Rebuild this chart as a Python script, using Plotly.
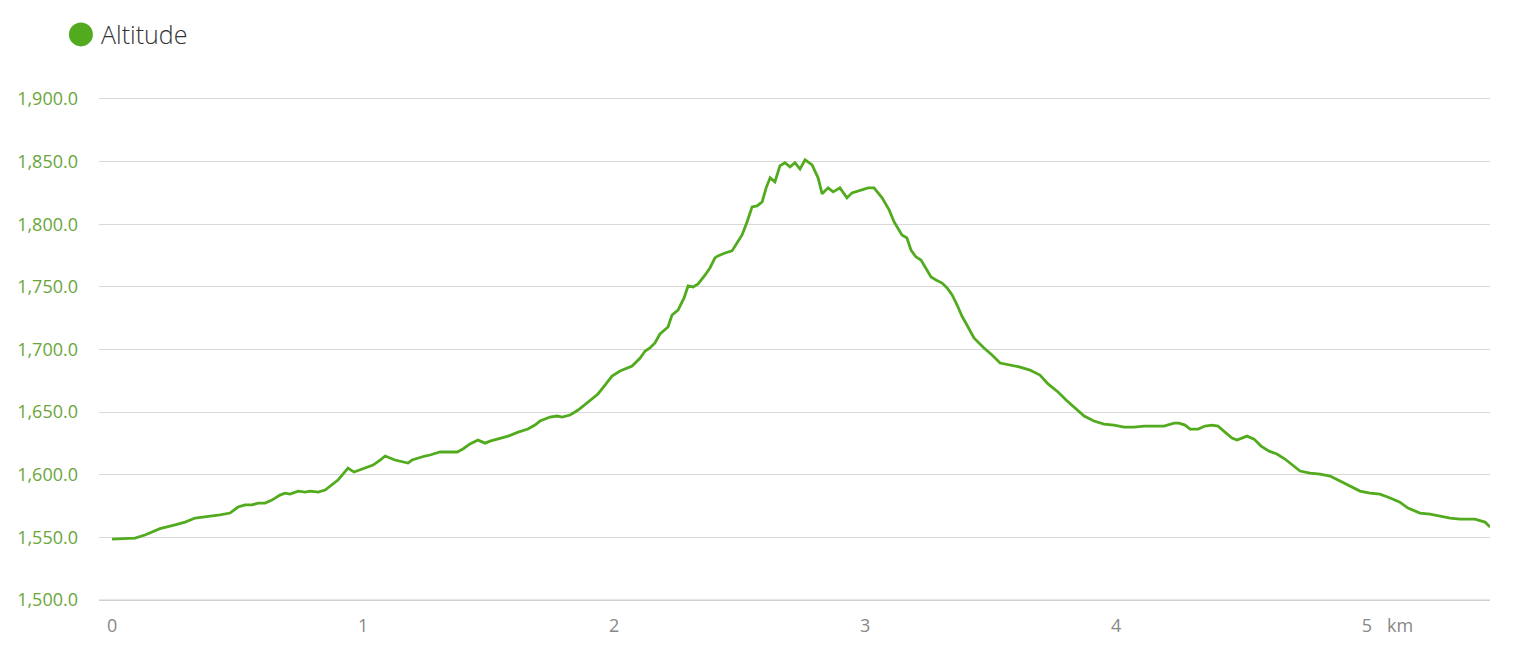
import plotly.graph_objects as go

distance_km = [0.000, 0.052, 0.092, 0.131, 0.151, 0.191, 0.251, 0.291, 0.331, 0.371, 0.410, 0.430,
               0.470, 0.502, 0.530, 0.558, 0.582, 0.610, 0.637, 0.669, 0.689, 0.709, 0.741, 0.769,
               0.789, 0.821, 0.849, 0.876, 0.900, 0.920, 0.940, 0.964, 0.996, 1.020, 1.040, 1.068,
               1.088, 1.127, 1.155, 1.179, 1.195, 1.219, 1.247, 1.267, 1.307, 1.347, 1.375, 1.398,
               1.426, 1.458, 1.486, 1.506, 1.546, 1.578, 1.618, 1.657, 1.685, 1.705, 1.745, 1.773,
               1.793, 1.825, 1.857, 1.896, 1.936, 1.968, 1.992, 2.024, 2.044, 2.072, 2.104, 2.124,
               2.143, 2.163, 2.183, 2.215, 2.231, 2.255, 2.279, 2.295, 2.315, 2.335, 2.363, 2.382,
               2.402, 2.414, 2.442, 2.470, 2.490, 2.510, 2.530, 2.550, 2.570, 2.590, 2.606, 2.622,
               2.641, 2.661, 2.681, 2.701, 2.721, 2.741, 2.761, 2.789, 2.813, 2.829, 2.853, 2.873,
               2.900, 2.928, 2.948, 2.980, 3.012, 3.036, 3.068, 3.096, 3.116, 3.147, 3.167, 3.183,
               3.203, 3.223, 3.243, 3.263, 3.283, 3.307, 3.327, 3.347, 3.367, 3.386, 3.406, 3.434,
               3.474, 3.506, 3.538, 3.578, 3.618, 3.657, 3.697, 3.729, 3.769, 3.801, 3.837, 3.873,
               3.912, 3.952, 3.992, 4.032, 4.072, 4.112, 4.151, 4.191, 4.231, 4.251, 4.275, 4.295,
               4.327, 4.355, 4.382, 4.406, 4.434, 4.462, 4.482, 4.502, 4.522, 4.550, 4.578, 4.610,
               4.641, 4.673, 4.701, 4.733, 4.773, 4.813, 4.853, 4.892, 4.932, 4.972, 5.012, 5.052,
               5.092, 5.131, 5.163, 5.211, 5.251, 5.291, 5.331, 5.371, 5.410, 5.430, 5.470, 5.490]
altitude_m = [1548.7, 1548.9, 1549.5, 1552.0, 1553.5, 1557.0, 1560.0, 1562.3, 1565.5, 1566.3, 1567.0, 1568.0,
              1569.5, 1574.3, 1576.0, 1576.0, 1577.4, 1577.4, 1579.8, 1583.8, 1585.4, 1584.6, 1587.0, 1586.2,
              1587.0, 1586.2, 1587.8, 1591.8, 1595.8, 1600.6, 1605.4, 1602.2, 1604.6, 1606.2, 1607.8, 1611.8,
              1615.0, 1611.8, 1610.2, 1609.4, 1611.8, 1613.4, 1615.0, 1615.8, 1618.2, 1618.2, 1618.2, 1620.6,
              1624.6, 1627.7, 1625.3, 1626.9, 1629.3, 1630.9, 1634.1, 1636.5, 1639.7, 1642.9, 1646.1, 1646.9,
              1646.1, 1647.7, 1651.7, 1658.1, 1664.5, 1672.5, 1678.8, 1682.8, 1684.4, 1686.8, 1693.2, 1698.8,
              1701.2, 1705.2, 1712.4, 1718.0, 1727.5, 1731.5, 1741.1, 1750.7, 1749.9, 1752.3, 1759.5, 1765.1,
              1773.1, 1774.7, 1777.0, 1778.7, 1785.0, 1791.4, 1801.8, 1813.8, 1814.6, 1817.8, 1829.0, 1837.0,
              1833.8, 1846.5, 1849.0, 1845.7, 1849.0, 1844.0, 1851.3, 1847.3, 1837.0, 1824.2, 1829.0, 1825.8,
              1829.0, 1821.0, 1825.0, 1827.3, 1829.0, 1829.0, 1821.0, 1811.4, 1801.8, 1791.4, 1789.0, 1779.4,
              1773.8, 1771.4, 1765.0, 1757.9, 1755.5, 1753.0, 1749.1, 1743.5, 1735.5, 1726.7, 1719.6, 1709.2,
              1701.2, 1695.6, 1689.2, 1687.6, 1686.0, 1683.6, 1679.6, 1672.5, 1666.1, 1659.7, 1653.3, 1646.9,
              1642.9, 1640.5, 1639.7, 1638.1, 1638.1, 1638.9, 1638.9, 1638.9, 1641.3, 1641.3, 1639.7, 1636.5,
              1636.5, 1638.9, 1639.7, 1638.9, 1634.1, 1629.3, 1627.7, 1629.3, 1630.9, 1628.5, 1622.9, 1618.9,
              1616.6, 1612.6, 1607.8, 1603.0, 1601.4, 1600.6, 1599.0, 1595.0, 1591.0, 1587.0, 1585.4, 1584.6,
              1581.5, 1578.2, 1573.5, 1569.5, 1568.7, 1567.0, 1565.5, 1564.7, 1564.7, 1564.7, 1562.3, 1558.3]

x_tick_vals = [0, 1, 2, 3, 4, 5]
x_tick_text = ["0", "1", "2", "3", "4", "5"]
y_tick_vals = [1500, 1550, 1600, 1650, 1700, 1750, 1800, 1850, 1900]
y_tick_text = ["{:,.1f}".format(v) for v in y_tick_vals]

GREEN = "#52ab1e"
GRID = "#d8d8d8"
FONT = "Open Sans"

fig = go.Figure()
fig.add_trace(go.Scatter(
    x=distance_km, y=altitude_m, mode="lines",
    line=dict(color=GREEN, width=2.8, shape="linear"),
    name="Altitude", showlegend=False, hoverinfo="x+y",
))

fig.update_layout(
    width=1517, height=641,
    margin=dict(l=91, r=35, t=89, b=47, autoexpand=False),
    paper_bgcolor="white", plot_bgcolor="white",
    font=dict(family=FONT),
    xaxis=dict(
        range=[-0.052, 5.49], tickvals=x_tick_vals, ticktext=x_tick_text,
        showgrid=False, zeroline=False, showline=False, ticks="", automargin=False,
        tickfont=dict(family=FONT, size=18, color="#888888"),
        ticklabelstandoff=11,
    ),
    yaxis=dict(
        range=[1498.5, 1901.5], tickvals=y_tick_vals, ticktext=y_tick_text,
        showgrid=True, gridcolor=GRID, gridwidth=1, zeroline=False, showline=False, ticks="",
        automargin=False,
        tickfont=dict(family=FONT, size=18, color="#6aa63a"),
        ticklabelstandoff=20,
    ),
    shapes=[
        dict(type="line", xref="paper", yref="y", x0=0, x1=1,
             y0=y_tick_vals[0], y1=y_tick_vals[0], line=dict(color="#cfcfcf", width=1.2), layer="above"),
        dict(type="circle", xref="paper", yref="paper",
             xsizemode="pixel", ysizemode="pixel",
             xanchor=-0.0130, yanchor=1.124,
             x0=-12, x1=12, y0=-12, y1=12,
             fillcolor=GREEN, line=dict(width=0)),
    ],
    annotations=[
        dict(text="Altitude", xref="paper", yref="paper", x=0.0, y=1.124,
             xanchor="left", yanchor="middle", showarrow=False,
             font=dict(family=FONT, size=25, color="#333333", weight=300)),
        dict(text="km", xref="x", yref="paper", x=5.07, y=0, yshift=-23,
             xanchor="left", yanchor="middle", showarrow=False,
             font=dict(family=FONT, size=18, color="#888888")),
    ],
)

fig.write_html("out.html")
